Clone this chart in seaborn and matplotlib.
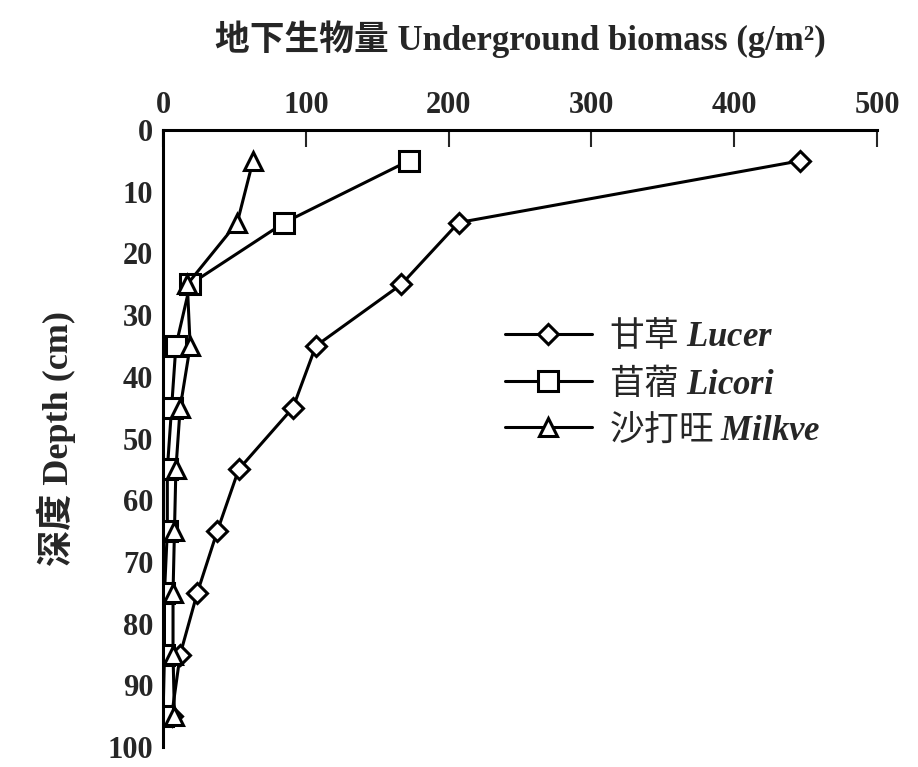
import pandas as pd
import matplotlib
matplotlib.use('Agg')
import matplotlib.pyplot as plt
import seaborn as sns

# ================== DATA ==================
depth = [5, 15, 25, 35, 45, 55, 65, 75, 85, 95]
lucer = [446, 207, 167, 107, 91, 53, 38, 24, 12, 6]
licori = [172, 85, 19, 9, 6, 3, 3, 1, 1, 0]
milkve = [63, 52, 17, 19, 12, 9, 8, 7, 7, 8]
species = ['Lucer', 'Licori', 'Milkve']
legend_labels = ['甘草 $\\it{Lucer}$', '苜蓿 $\\it{Licori}$', '沙打旺 $\\it{Milkve}$']
x_ticks = [0, 100, 200, 300, 400, 500]
y_ticks = [0, 10, 20, 30, 40, 50, 60, 70, 80, 90, 100]

df = pd.concat([
    pd.DataFrame({'depth': depth, 'biomass': vals, 'species': name})
    for name, vals in zip(species, [lucer, licori, milkve])
], ignore_index=True)

# ================== STYLE ==================
sns.set_style('white')
mixed = ['Liberation Serif', 'Noto Sans CJK SC']
plt.rcParams['font.family'] = mixed
plt.rcParams['mathtext.fontset'] = 'custom'
plt.rcParams['mathtext.it'] = 'Liberation Serif:italic:bold'
plt.rcParams['mathtext.rm'] = 'Liberation Serif'

fig = plt.figure(figsize=(9.18, 7.67), dpi=100)
ax = fig.add_axes([0.1776, 0.026, 0.7777, 0.8045])

sns.lineplot(data=df, x='biomass', y='depth', hue='species', style='species',
             palette=['black'] * 3, markers={'Lucer': 'D', 'Licori': 's', 'Milkve': '^'},
             dashes=False, sort=False, estimator=None, legend=False, ax=ax,
             linewidth=2.2, markersize=13, markerfacecolor='white',
             markeredgecolor='black', markeredgewidth=2.2)

sizes = {'Lucer': 10, 'Licori': 14, 'Milkve': 13}
for line, name in zip(ax.lines, species):
    line.set_markersize(sizes[name])

ax.set_xlim(0, 500)
ax.set_ylim(100, 0)
ax.xaxis.tick_top()
ax.xaxis.set_label_position('top')
ax.set_xticks(x_ticks)
ax.set_yticks(y_ticks)
ax.tick_params(axis='both', direction='in', length=12, width=1.5,
               labelsize=22, pad=7)
for lab in ax.get_xticklabels() + ax.get_yticklabels():
    lab.set_fontweight('bold')

for side in ['right', 'bottom']:
    ax.spines[side].set_visible(False)
for side in ['top', 'left']:
    ax.spines[side].set_linewidth(2.2)
    ax.spines[side].set_color('black')

ax.set_xlabel('地下生物量 Underground biomass (g/m²)', fontsize=25,
              fontweight='bold', labelpad=30, family=mixed)
ax.set_ylabel('深度 Depth (cm)', fontsize=26, fontweight='bold', labelpad=23,
              family=mixed)

leg = ax.legend(ax.lines, legend_labels, loc='upper left',
                bbox_to_anchor=(0.479, 0.695), frameon=False,
                handlelength=2.5, handletextpad=0.5, labelspacing=0.3,
                borderpad=0, borderaxespad=0,
                prop={'family': ['Noto Sans CJK SC'], 'size': 25})

plt.savefig('out.png', dpi=100)
plt.close()
